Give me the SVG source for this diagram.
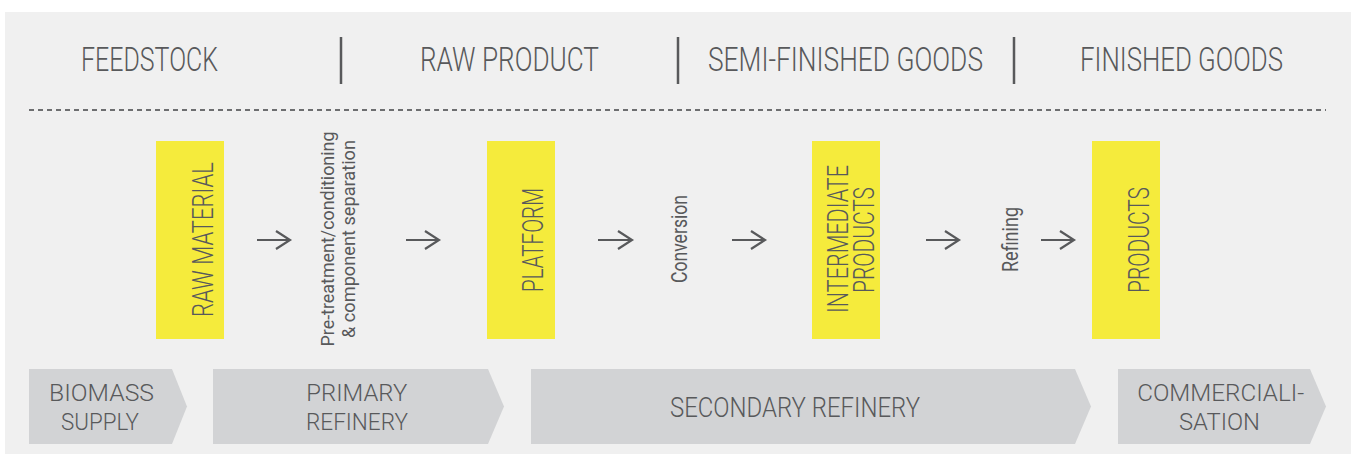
<svg xmlns="http://www.w3.org/2000/svg" width="1351" height="454" viewBox="0 0 1351 454">
  <defs>
    <style>
      text { font-family: Roboto, "Liberation Sans", sans-serif; font-weight: 300; fill: #58595b; }
      .head { font-size: 33px; }
      .box-label { font-size: 29px; text-anchor: middle; }
      .step { font-size: 22px; text-anchor: middle; font-weight: 400; }
      .step-small { font-size: 18px; text-anchor: middle; font-weight: 400; }
      .stage-label { font-size: 24px; text-anchor: middle; }
      .stage-single { font-size: 27px; text-anchor: middle; }
      .box { fill: #f5eb3c; }
      .stage { fill: #d2d3d5; }
      .divider { stroke: #58595b; stroke-width: 2.5; }
      .arrow { fill: none; stroke: #58595b; stroke-width: 2.2; stroke-linecap: butt; stroke-linejoin: miter; }
    </style>
  </defs>

  <!-- panel -->
  <rect x="0" y="0" width="1351" height="454" fill="#ffffff"/>
  <rect x="5" y="12" width="1346" height="442" fill="#f0f0f0"/>

  <!-- column headings -->
  <g id="headings">
    <text class="head" x="81" y="71" textLength="137" lengthAdjust="spacingAndGlyphs">FEEDSTOCK</text>
    <text class="head" x="420" y="71" textLength="179" lengthAdjust="spacingAndGlyphs">RAW PRODUCT</text>
    <text class="head" x="708" y="71" textLength="275" lengthAdjust="spacingAndGlyphs">SEMI-FINISHED GOODS</text>
    <text class="head" x="1080" y="71" textLength="203" lengthAdjust="spacingAndGlyphs">FINISHED GOODS</text>
    <line class="divider" x1="341" y1="37" x2="341" y2="84"/>
    <line class="divider" x1="678" y1="37" x2="678" y2="84"/>
    <line class="divider" x1="1014" y1="37" x2="1014" y2="84"/>
  </g>

  <line x1="29" y1="110" x2="1326" y2="110" stroke="#6d6e70" stroke-width="2" stroke-dasharray="5 4"/>

  <!-- product stages -->
  <g id="raw-material">
    <rect class="box" x="156" y="141" width="68" height="198"/>
    <text class="box-label" transform="translate(212.5,239.5) rotate(-90)" textLength="155" lengthAdjust="spacingAndGlyphs">RAW MATERIAL</text>
  </g>
  <g id="platform">
    <rect class="box" x="487" y="141" width="68" height="198"/>
    <text class="box-label" transform="translate(542.5,240) rotate(-90)" textLength="104" lengthAdjust="spacingAndGlyphs">PLATFORM</text>
  </g>
  <g id="intermediate-products">
    <rect class="box" x="812" y="141" width="68" height="198"/>
    <text class="box-label" transform="translate(847.5,239) rotate(-90)" textLength="148" lengthAdjust="spacingAndGlyphs">INTERMEDIATE</text>
    <text class="box-label" transform="translate(873.5,240) rotate(-90)" textLength="106" lengthAdjust="spacingAndGlyphs">PRODUCTS</text>
  </g>
  <g id="products">
    <rect class="box" x="1092" y="141" width="68" height="198"/>
    <text class="box-label" transform="translate(1148.5,240) rotate(-90)" textLength="106" lengthAdjust="spacingAndGlyphs">PRODUCTS</text>
  </g>

  <!-- process steps -->
  <g id="pretreatment">
    <text class="step-small" transform="translate(333.5,239) rotate(-90)" textLength="215" lengthAdjust="spacingAndGlyphs">Pre-treatment/conditioning</text>
    <text class="step-small" transform="translate(355,239) rotate(-90)" textLength="198" lengthAdjust="spacingAndGlyphs">&amp; component separation</text>
  </g>
  <g id="conversion">
    <text class="step" transform="translate(686.5,239) rotate(-90)" textLength="88" lengthAdjust="spacingAndGlyphs">Conversion</text>
  </g>
  <g id="refining">
    <text class="step" transform="translate(1018,239.5) rotate(-90)" textLength="65" lengthAdjust="spacingAndGlyphs">Refining</text>
  </g>

  <!-- connectors -->
  <g id="connectors">
    <path class="arrow" d="M257 240H289.5M276 231L290 240L276 249"/>
    <path class="arrow" d="M406 240H438.5M425 231L439 240L425 249"/>
    <path class="arrow" d="M598 240H631.5M618 231L632 240L618 249"/>
    <path class="arrow" d="M732 240H764.5M751 231L765 240L751 249"/>
    <path class="arrow" d="M926 240H958.5M945 231L959 240L945 249"/>
    <path class="arrow" d="M1041 240H1073.5M1060 231L1074 240L1060 249"/>
  </g>

  <!-- value chain segments -->
  <g id="biomass-supply">
    <polygon class="stage" points="29,369 172,369 187,406.5 172,444 29,444"/>
    <text class="stage-label" x="101.5" y="401" textLength="105" lengthAdjust="spacingAndGlyphs">BIOMASS</text>
    <text class="stage-label" x="100" y="429.5" textLength="78" lengthAdjust="spacingAndGlyphs">SUPPLY</text>
  </g>
  <g id="primary-refinery">
    <polygon class="stage" points="213,369 488,369 504,406.5 488,444 213,444"/>
    <text class="stage-label" x="356.8" y="401" textLength="101" lengthAdjust="spacingAndGlyphs">PRIMARY</text>
    <text class="stage-label" x="357" y="429.5" textLength="102" lengthAdjust="spacingAndGlyphs">REFINERY</text>
  </g>
  <g id="secondary-refinery">
    <polygon class="stage" points="531,369 1075,369 1091,406.5 1075,444 531,444"/>
    <text class="stage-single" x="795" y="416.5" textLength="250" lengthAdjust="spacingAndGlyphs">SECONDARY REFINERY</text>
  </g>
  <g id="commercialisation">
    <polygon class="stage" points="1118,369 1310,369 1326,406.5 1310,444 1118,444"/>
    <text class="stage-label" x="1220.7" y="401" textLength="167" lengthAdjust="spacingAndGlyphs">COMMERCIALI-</text>
    <text class="stage-label" x="1219.5" y="429.5" textLength="81" lengthAdjust="spacingAndGlyphs">SATION</text>
  </g>
</svg>
